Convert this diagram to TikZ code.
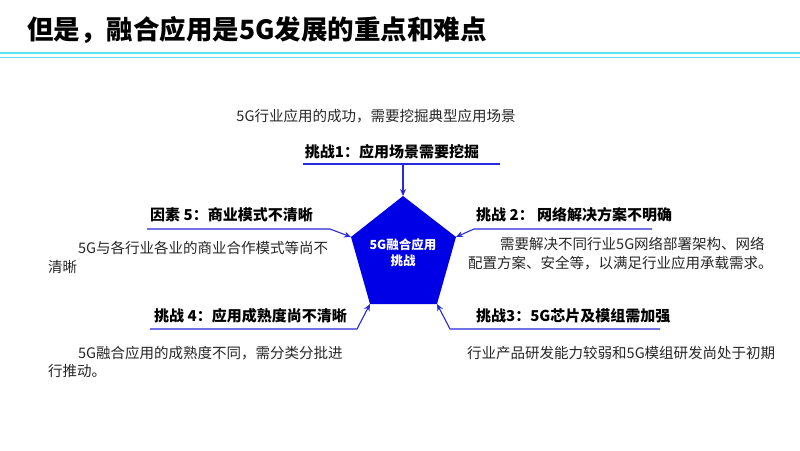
\documentclass[tikz,border=0pt]{standalone}
\usepackage{fontspec}
\setmainfont{Noto Sans CJK SC}
\usetikzlibrary{arrows.meta}
\definecolor{pblue}{RGB}{0,0,230}
\definecolor{lblue}{RGB}{40,40,220}
\definecolor{cyanl}{RGB}{90,230,240}
\tikzset{
  head/.style={font=\fontsize{15}{17}\selectfont\bfseries, anchor=west, inner sep=0},
  body/.style={font=\fontsize{14.5}{16}\selectfont, anchor=west, inner sep=0, text=black!85},
  conn/.style={lblue, line width=1.1pt},
  arr/.style={conn, -{Stealth[length=7pt,width=6pt]}}
}
\begin{document}
\begin{tikzpicture}[x=1pt,y=-1pt]
\useasboundingbox (0,0) rectangle (800,450);
\node[anchor=west, inner sep=0, font=\fontsize{26.5}{30}\selectfont\bfseries] (title) at (27,30) {但是，融合应用是5G发展的重点和难点};
\draw[cyanl, line width=2.2pt] (0,53) -- (800,53);
\draw[cyanl, line width=0.9pt] (0,57.5) -- (800,57.5);

% pentagon
\coordinate (pt) at (403,196);
\coordinate (pl) at (351,237);
\coordinate (pr) at (456,237);
\coordinate (pbl) at (370,304);
\coordinate (pbr) at (437,304);
\fill[pblue] (pt) -- (pr) -- (pbr) -- (pbl) -- (pl) -- cycle;
\node[align=center, text=white, font=\fontsize{12.5}{16}\selectfont\bfseries] (pc) at (403,253) {5G融合应用\\挑战};

\node[body, anchor=center] (intro) at (376,116) {5G行业应用的成功，需要挖掘典型应用场景};
\node[head, anchor=center] (c1) at (392,152) {挑战1：应用场景需要挖掘};
\coordinate (t1a) at (303,164); \coordinate (t1b) at (500,164); \coordinate (t1m) at (403,164);
\draw[conn] (t1a) -- (t1b);
\draw[arr] (t1m) -- (pt);

\node[head] (c5) at (150,215) {因素 5：商业模式不清晰};
\node[body] (b5a) at (78,248) {5G与各行业各业的商业合作模式等尚不};
\node[body] (b5b) at (48,267) {清晰};
\coordinate (l5a) at (147,229); \coordinate (l5b) at (330,229);
\draw[arr] (l5a) -- (l5b) -- (pl);

\node[head] (c2) at (476,215) {挑战 2： 网络解决方案不明确};
\node[body] (b2a) at (500,244) {需要解决不同行业5G网络部署架构、网络};
\node[body] (b2b) at (468,263) {配置方案、安全等，以满足行业应用承载需求。};
\coordinate (l2a) at (652,229); \coordinate (l2b) at (474,229);
\draw[arr] (l2a) -- (l2b) -- (pr);

\node[head] (c4) at (154,316) {挑战 4：应用成熟度尚不清晰};
\node[body] (b4a) at (78,353) {5G融合应用的成熟度不同，需分类分批进};
\node[body] (b4b) at (48,371) {行推动。};
\coordinate (l4a) at (150,329); \coordinate (l4b) at (357,329);
\draw[arr] (l4a) -- (l4b) -- (pbl);

\node[head] (c3) at (476,316) {挑战3：5G芯片及模组需加强};
\node[body] (b3a) at (467,353) {行业产品研发能力较弱和5G模组研发尚处于初期};
\coordinate (l3a) at (660,329); \coordinate (l3b) at (450,329);
\draw[arr] (l3a) -- (l3b) -- (pbr);
\end{tikzpicture}
\end{document}
